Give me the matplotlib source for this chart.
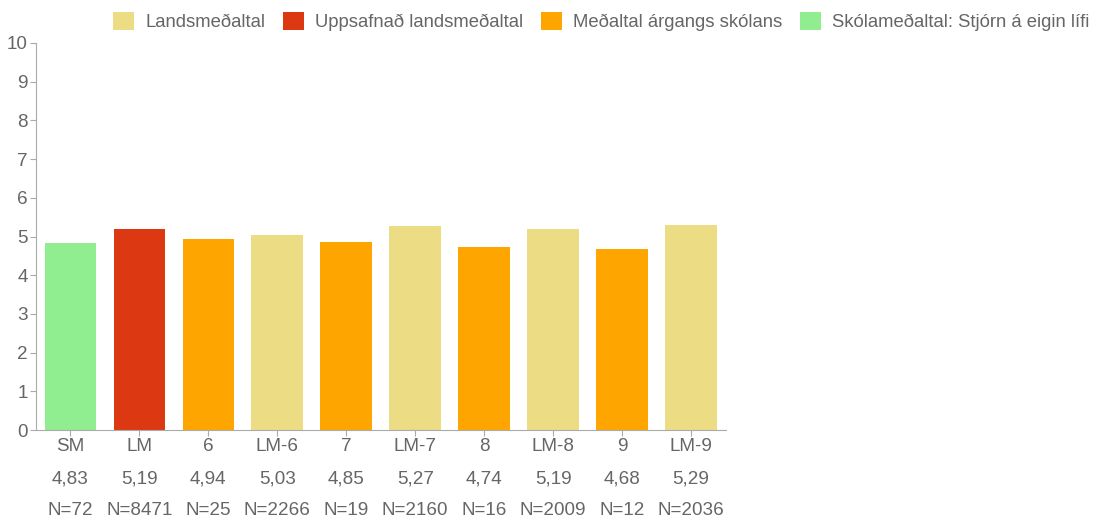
import matplotlib
matplotlib.use('Agg')
import matplotlib.pyplot as plt
from matplotlib.patches import Patch

# data
categories = ['SM', 'LM', '6', 'LM-6', '7', 'LM-7', '8', 'LM-8', '9', 'LM-9']
values = [4.83, 5.19, 4.94, 5.03, 4.85, 5.27, 4.74, 5.19, 4.68, 5.29]
counts = [72, 8471, 25, 2266, 19, 2160, 16, 2009, 12, 2036]
groups = ['skoli', 'uppsafn', 'argangur', 'lands', 'argangur', 'lands',
          'argangur', 'lands', 'argangur', 'lands']

colors = {'lands': '#ecdc84', 'uppsafn': '#dc3912',
          'argangur': '#ffa500', 'skoli': '#90ee90'}
legend_names = [('lands', 'Landsmeðaltal'),
                ('uppsafn', 'Uppsafnað landsmeðaltal'),
                ('argangur', 'Meðaltal árgangs skólans'),
                ('skoli', 'Skólameðaltal: Stjórn á eigin lífi')]

plt.rcParams['font.family'] = ['Liberation Sans', 'DejaVu Sans']
plt.rcParams['font.size'] = 13.6
grey = '#666666'

fig = plt.figure(figsize=(11.07, 5.23), dpi=100)
ax = fig.add_axes([0.0325, 0.1778, 0.6229, 0.74])

x = range(len(categories))
ax.bar(x, values, width=0.75, color=[colors[g] for g in groups])

ax.set_xlim(-0.5, len(categories) - 0.5)
ax.set_ylim(0, 10)
ax.set_yticks(range(11))
ax.set_xticks(list(x))
labels = [f'{c}\n{str(v).replace(".", ",")}\nN={n}'
          for c, v, n in zip(categories, values, counts)]
ax.set_xticklabels(labels)
for lbl in ax.get_xticklabels():
    lbl.set_linespacing(2.13)

for s in ['top', 'right']:
    ax.spines[s].set_visible(False)
for s in ['left', 'bottom']:
    ax.spines[s].set_color('#aaaaaa')
ax.tick_params(axis='both', colors='#aaaaaa', labelcolor=grey, length=4)
ax.tick_params(axis='x', pad=2)
ax.tick_params(axis='y', pad=2)

handles = [Patch(facecolor=colors[k], edgecolor='none') for k, _ in legend_names]
fig.legend(handles, [n for _, n in legend_names], loc='upper left',
           bbox_to_anchor=(101 / 1107, 1.0), ncol=4, frameon=False,
           fontsize=13.35, handlelength=1.14, handleheight=1.14,
           handletextpad=0.62, columnspacing=0.92, labelcolor=grey,
           borderaxespad=0.25)

fig.savefig('out.png', dpi=100)
